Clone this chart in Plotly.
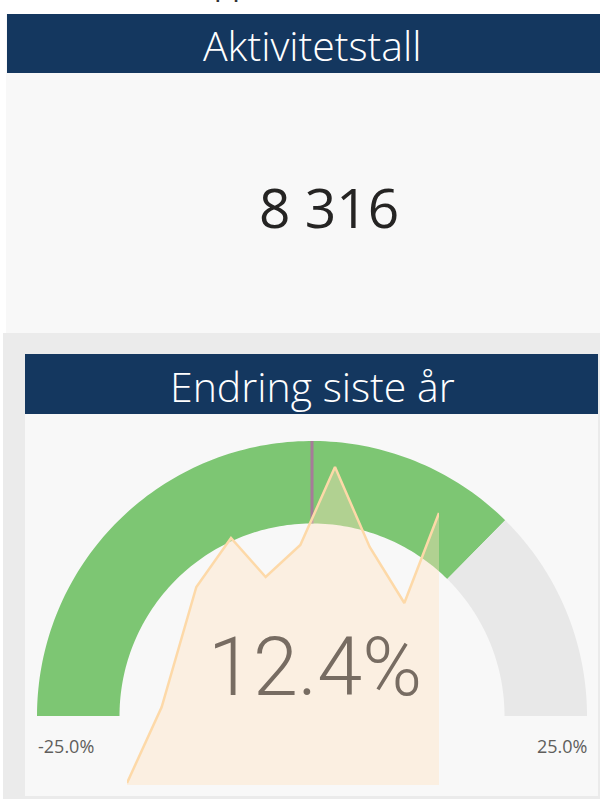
import numpy as np
import plotly.graph_objects as go

# ---------------- data ----------------
header_note = "(oppdatert 31.12.2023)"
card_title = "Aktivitetstall"
card_value = 8316
gauge_title = "Endring siste år"
gauge_min = -25.0
gauge_max = 25.0
gauge_value = 12.4
gauge_target = 0.0
trend_index = [0, 1, 2, 3, 4, 5, 6, 7, 8, 9]
trend_values = [2, 78, 198, 247, 208, 240, 318, 238, 182, 272]

# ---------------- styling ----------------
W, H = 600, 799
NAVY = "#14375f"
CARD_BG = "#f8f8f8"
OUTER_BG = "#ebebeb"
GREEN = "#7dc673"
GREY = "#e8e8e8"
TARGET = "#a67b99"
INNER = 0.70  # inner radius as a fraction of outer radius

def px(x):
    return x / W

def py(y):
    return 1 - y / H

def angle(v):
    return np.pi * (1 - (v - gauge_min) / (gauge_max - gauge_min))

def band(v0, v1, n=120):
    t = np.linspace(angle(v0), angle(v1), n)
    xs = np.concatenate([np.cos(t), INNER * np.cos(t[::-1])])
    ys = np.concatenate([np.sin(t), INNER * np.sin(t[::-1])])
    return xs, ys

fig = go.Figure()

# gauge: value band + remaining band
xs, ys = band(gauge_min, gauge_value)
fig.add_trace(go.Scatter(x=xs, y=ys, fill="toself", fillcolor=GREEN, mode="none",
                         hoverinfo="skip", showlegend=False, xaxis="x", yaxis="y"))
xs, ys = band(gauge_value, gauge_max)
fig.add_trace(go.Scatter(x=xs, y=ys, fill="toself", fillcolor=GREY, mode="none",
                         hoverinfo="skip", showlegend=False, xaxis="x", yaxis="y"))
# target marker
ta = angle(gauge_target)
fig.add_trace(go.Scatter(x=[INNER * np.cos(ta), np.cos(ta)], y=[INNER * np.sin(ta), np.sin(ta)],
                         mode="lines", line=dict(color=TARGET, width=3),
                         hoverinfo="skip", showlegend=False, xaxis="x", yaxis="y"))

# trend sparkline (overlaid)
fig.add_trace(go.Scatter(x=trend_index, y=trend_values, mode="lines", fill="tozeroy",
                         fillcolor="rgba(254,226,190,0.40)",
                         line=dict(color="#fdd9a8", width=2.5),
                         hoverinfo="skip", showlegend=False, xaxis="x2", yaxis="y2"))

cx0, cx1 = 37, 587
cy_base, cy_top = 716, 441
fig.update_layout(
    width=W, height=H,
    margin=dict(l=0, r=0, t=0, b=0),
    paper_bgcolor="white",
    plot_bgcolor="rgba(0,0,0,0)",
    xaxis=dict(domain=[px(cx0), px(cx1)], range=[-1, 1], visible=False, fixedrange=True),
    yaxis=dict(domain=[py(cy_base), py(cy_top)], range=[0, 1], visible=False, fixedrange=True),
    xaxis2=dict(domain=[px(127), px(439)], range=[0, 9], visible=False, anchor="y2", fixedrange=True),
    yaxis2=dict(domain=[py(785), py(465)], range=[0, 320], visible=False, anchor="x2", fixedrange=True),
)

shapes = [
    dict(type="rect", xref="paper", yref="paper", x0=px(3), x1=px(600), y0=py(799), y1=py(333),
         fillcolor=OUTER_BG, line=dict(width=0), layer="below"),
    dict(type="rect", xref="paper", yref="paper", x0=px(6), x1=px(600), y0=py(333), y1=py(14),
         fillcolor=CARD_BG, line=dict(width=0), layer="below"),
    dict(type="rect", xref="paper", yref="paper", x0=px(7), x1=px(600), y0=py(73), y1=py(14),
         fillcolor=NAVY, line=dict(width=0), layer="below"),
    dict(type="rect", xref="paper", yref="paper", x0=px(25), x1=px(598), y0=py(796), y1=py(414),
         fillcolor=CARD_BG, line=dict(width=0), layer="below"),
    dict(type="rect", xref="paper", yref="paper", x0=px(25), x1=px(598), y0=py(414), y1=py(354),
         fillcolor=NAVY, line=dict(width=0), layer="below"),
]
fig.update_layout(shapes=shapes)

seg = "Open Sans"
ann = [
    dict(text=header_note, x=px(346), y=py(6), xanchor="center", yanchor="bottom",
         font=dict(family=seg, size=30, color="#333333")),
    dict(text=card_title, x=px(312), y=py(45), xanchor="center", yanchor="middle",
         font=dict(family=seg, size=41, color="white", weight=300)),
    dict(text=f"{card_value:,}".replace(",", " "), x=px(329), y=py(206), xanchor="center", yanchor="middle",
         font=dict(family=seg, size=55, color="#252423")),
    dict(text=gauge_title, x=px(312), y=py(386), xanchor="center", yanchor="middle",
         font=dict(family=seg, size=41, color="white", weight=300)),
    dict(text=f"{gauge_value:.1f}%", x=px(315), y=py(667), xanchor="center", yanchor="middle",
         font=dict(family="Roboto", size=81, color="#776c62", weight=300)),
    dict(text=f"{gauge_min:.1f}%", x=px(36), y=py(746), xanchor="left", yanchor="middle",
         font=dict(family=seg, size=18, color="#605e5c")),
    dict(text=f"{gauge_max:.1f}%", x=px(589), y=py(746), xanchor="right", yanchor="middle",
         font=dict(family=seg, size=18, color="#605e5c")),
]
for a in ann:
    a.update(xref="paper", yref="paper", showarrow=False)
fig.update_layout(annotations=ann)

fig.write_html("out.html", config={"displayModeBar": False},
               post_script="document.body.style.margin='0';")
